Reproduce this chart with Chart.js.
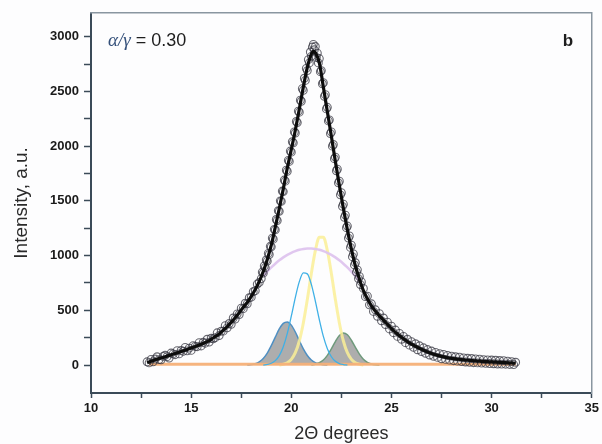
<!DOCTYPE html>
<html><head><meta charset="utf-8">
<script src="https://cdn.jsdelivr.net/npm/chart.js@4.4.1/dist/chart.umd.min.js"></script>
<style>html,body{margin:0;padding:0;background:#fdfdfe;}canvas{display:block;}</style>
</head><body>
<canvas id="c" width="602" height="444"></canvas>
<script>
// ---- data ----
const xTickValues = [10,12.5,15,17.5,20,22.5,25,27.5,30,32.5,35];
const xTickLabels = [10,15,20,25,30,35];
const yTickValues = [0,250,500,750,1000,1250,1500,1750,2000,2250,2500,2750,3000];
const yTickLabels = [0,500,1000,1500,2000,2500,3000];

const scatterTheta = [
12.8,12.9,13.0,13.1,13.2,13.3,13.4,13.5,13.6,13.7,13.8,13.9,14.0,14.1,14.2,14.3,14.4,14.5,14.6,14.7,14.8,14.9,15.0,15.1,15.2,15.3,15.4,15.5,15.6,15.7,15.8,15.9,16.0,16.1,16.2,16.3,16.4,16.5,16.6,16.7,16.8,16.9,17.0,17.1,17.2,17.3,17.4,17.5,17.6,17.7,17.8,17.9,18.0,18.1,18.2,18.3,18.4,
18.50,18.55,18.60,18.65,18.70,18.75,18.80,18.85,18.90,18.95,19.00,19.05,19.10,19.15,19.20,19.25,19.30,19.35,19.40,19.45,19.50,19.55,19.60,19.65,19.70,19.75,19.80,19.85,19.90,19.95,20.00,20.05,20.10,20.15,20.20,20.25,20.30,20.35,20.40,20.45,20.50,20.55,20.60,20.65,20.70,20.75,20.80,20.85,20.90,20.95,21.00,21.05,21.10,21.15,21.20,21.25,21.30,21.35,21.40,21.45,21.50,21.55,21.60,21.65,21.70,21.75,21.80,21.85,21.90,21.95,22.00,22.05,22.10,22.15,22.20,22.25,22.30,22.35,22.40,22.45,22.50,22.55,22.60,22.65,22.70,22.75,22.80,22.85,22.90,22.95,23.00,23.05,23.10,23.15,23.20,23.25,23.30,23.35,23.40,23.45,23.50,
23.6,23.7,23.8,23.9,24.0,24.1,24.2,24.3,24.4,24.5,24.6,24.7,24.8,24.9,25.0,25.1,25.2,25.3,25.4,25.5,25.6,25.7,25.8,25.9,26.0,26.1,26.2,26.3,26.4,26.5,26.6,26.7,26.8,26.9,27.0,27.1,27.2,27.3,27.4,27.5,27.6,27.7,27.8,27.9,28.0,28.1,28.2,28.3,28.4,28.5,28.6,28.7,28.8,28.9,29.0,29.1,29.2,29.3,29.4,29.5,29.6,29.7,29.8,29.9,30.0,30.1,30.2,30.3,30.4,30.5,30.6,30.7,30.8,30.9,31.0,31.1,31.2
];
const scatterIntensity = [
30,20,52,30,55,76,50,48,80,90,77,64,110,102,95,132,102,134,126,162,130,155,134,178,170,168,205,175,208,200,236,210,245,240,250,295,270,310,310,360,340,380,372,430,420,468,462,520,515,565,560,615,620,670,680,740,755,
790,850,840,905,890,960,950,1020,1010,1085,1080,1160,1150,1240,1235,1330,1320,1410,1405,1500,1495,1590,1585,1690,1680,1780,1770,1870,1860,1955,1945,2040,2030,2130,2120,2225,2215,2320,2310,2420,2410,2525,2510,2620,2600,2710,2690,2790,2760,2860,2820,2905,2930,2880,2910,2810,2850,2760,2800,2680,2690,2570,2580,2455,2470,2340,2355,2230,2240,2115,2130,2000,2015,1885,1900,1775,1790,1665,1680,1555,1575,1450,1470,1350,1370,1255,1270,1160,1180,1075,1095,990,1015,915,935,850,870,790,810,735,760,
700,625,630,550,560,490,505,445,470,405,430,370,392,330,355,296,320,262,290,236,262,205,236,182,214,162,195,140,176,124,158,108,142,92,128,80,116,70,105,58,98,52,88,45,82,40,76,36,72,32,66,28,62,25,60,22,56,20,54,18,50,16,48,14,46,12,44,10,42,9,40,8,36,6,32,5,26
];

const fitTheta = [12.8,13.0,13.2,13.4,13.6,13.8,14.0,14.2,14.4,14.6,14.8,15.0,15.2,15.4,15.6,15.8,16.0,16.2,16.4,16.6,16.8,17.0,17.2,17.4,17.6,17.8,18.0,18.2,18.4,18.6,18.8,19.0,19.2,19.4,19.6,19.8,20.0,20.2,20.4,20.6,20.8,21.0,21.1,21.2,21.4,21.6,21.8,22.0,22.2,22.4,22.6,22.8,23.0,23.2,23.4,23.6,23.8,24.0,24.2,24.4,24.6,24.8,25.0,25.2,25.4,25.6,25.8,26.0,26.2,26.4,26.6,26.8,27.0,27.2,27.4,27.6,27.8,28.0,28.2,28.4,28.6,28.8,29.0,29.2,29.4,29.6,29.8,30.0,30.2,30.4,30.6,30.8,31.0,31.2];
const fitIntensity = [22,35,48,60,70,82,94,106,118,130,143,156,169,183,198,214,235,260,285,318,352,390,432,478,528,572,627,690,765,855,965,1095,1260,1430,1610,1800,1970,2145,2340,2540,2720,2840,2865,2855,2760,2540,2315,2090,1860,1640,1430,1235,1060,905,785,680,605,540,492,450,410,371,334,299,268,240,215,192,172,153,136,120,106,94,84,75,67,61,56,52,48,44,41,38,36,33,31,29,27,25,23,21,19,17];

const peakATheta = [17.8,18.0,18.2,18.4,18.6,18.8,19.0,19.2,19.4,19.6,19.8,20.0,20.2,20.4,20.6,20.8,21.0,21.2,21.4,21.6,21.8];
const peakAIntensity = [0,5,13,30,61,110,177,255,330,381,394,365,302,224,148,88,46,22,9,3,0];

const peakBTheta = [21.0,21.2,21.4,21.6,21.8,22.0,22.2,22.4,22.6,22.8,23.0,23.2,23.4,23.6,23.8,24.0,24.2,24.4];
const peakBIntensity = [0,8,21,46,89,148,215,270,294,277,227,161,100,53,25,10,3,0];

const peakCTheta = [18.6,18.8,19.0,19.2,19.4,19.6,19.8,20.0,20.2,20.4,20.6,20.8,21.0,21.2,21.4,21.6,21.8,22.0,22.2,22.4,22.6,22.8];
const peakCIntensity = [0,6,17,41,87,168,290,447,617,762,842,833,737,584,414,262,149,76,34,14,5,0];

const peakDTheta = [19.4,19.6,19.8,20.0,20.2,20.4,20.6,20.8,21.0,21.2,21.4,21.6,21.8,22.0,22.2,22.4,22.6,22.8,23.0,23.2,23.4,23.6];
const peakDIntensity = [0,8,21,52,113,220,385,599,837,1045,1168,1168,1045,837,599,385,220,113,52,21,8,0];

const broadTheta = [18.6,18.8,19.0,19.2,19.4,19.6,19.8,20.0,20.2,20.4,20.6,20.8,21.0,21.2,21.4,21.6,21.8,22.0,22.2,22.4,22.6,22.8,23.0,23.2,23.4];
const broadIntensity = [811,853,892,926,957,984,1007,1026,1041,1053,1061,1065,1065,1061,1053,1041,1026,1007,984,957,926,892,853,811,766];

const baselineTheta = [12.9,31.2];
const baselineIntensity = [8,8];

// ---- build chart ----
const pts = (xs, ys) => xs.map((x, i) => ({x: x, y: ys[i]}));
const AX = '#3b4b58';
const FONT = 'Liberation Sans';

const bgPlugin = {
  id: 'bg',
  beforeDraw(chart) {
    const c = chart.ctx;
    c.save(); c.fillStyle = '#fdfdfe'; c.fillRect(0, 0, chart.width, chart.height); c.restore();
  }
};
const textPlugin = {
  id: 'texts',
  afterDraw(chart) {
    const c = chart.ctx, a = chart.chartArea;
    c.save();
    c.textBaseline = 'alphabetic';
    c.font = 'italic 19px "Liberation Serif"';
    c.fillStyle = '#34507a';
    c.fillText('α/γ', a.left + 17, a.top + 33);
    const w = c.measureText('α/γ').width;
    c.font = '18px "' + FONT + '"';
    c.fillStyle = '#1e1e1e';
    c.fillText(' = 0.30', a.left + 17 + w, a.top + 33);
    c.font = 'bold 17px "' + FONT + '"';
    c.fillText('b', a.right - 29, a.top + 33);
    c.restore();
  }
};

const lineDs = (label, data, color, width, order, extra) => Object.assign({
  label, data, showLine: true, borderColor: color, borderWidth: width,
  pointRadius: 0, pointHoverRadius: 0, fill: false, order,
  cubicInterpolationMode: 'monotone'
}, extra || {});

new Chart(document.getElementById('c'), {
  type: 'scatter',
  data: {
    datasets: [
      lineDs('fit', pts(fitTheta, fitIntensity), '#0d0d0d', 3.2, 0),
      {label: 'data', data: pts(scatterTheta, scatterIntensity), showLine: false,
       pointRadius: 3.9, pointStyle: 'circle', borderWidth: 1.1,
       borderColor: 'rgba(55,55,65,0.75)', backgroundColor: 'rgba(0,0,0,0)', order: 1},
      lineDs('peak C', pts(peakCTheta, peakCIntensity), '#3fb0e6', 1.3, 2),
      lineDs('baseline', pts(baselineTheta, baselineIntensity), 'rgba(246,176,120,0.95)', 3, 3),
      lineDs('broad', pts(broadTheta, broadIntensity), 'rgba(222,196,238,0.95)', 2.5, 4),
      lineDs('peak D', pts(peakDTheta, peakDIntensity), 'rgba(250,238,150,0.85)', 3, 5),
      lineDs('peak A', pts(peakATheta, peakAIntensity), '#4f8fc2', 1.5, 6,
        {fill: 'origin', backgroundColor: 'rgba(150,150,150,0.78)'}),
      lineDs('peak B', pts(peakBTheta, peakBIntensity), '#6f9a7c', 1.5, 6,
        {fill: 'origin', backgroundColor: 'rgba(150,150,150,0.78)'})
    ]
  },
  options: {
    responsive: false,
    devicePixelRatio: 1,
    animation: false,
    layout: {padding: {top: 11, right: 10, left: 0, bottom: 0}},
    plugins: {legend: {display: false}, tooltip: {enabled: false}},
    scales: {
      x: {
        type: 'linear', min: 10, max: 35, position: 'bottom',
        afterBuildTicks: s => { s.ticks = xTickValues.map(v => ({value: v})); },
        afterFit: s => { s.height = 51; },
        ticks: {autoSkip: false, maxRotation: 0, padding: 3, color: '#1a1a1a',
          font: {family: FONT, size: 13, weight: 'bold'},
          callback: v => xTickLabels.includes(v) ? String(v) : ''},
        grid: {drawOnChartArea: false, drawTicks: true, tickLength: 5, tickColor: AX, tickWidth: 1.5},
        border: {display: true, color: AX, width: 2},
        title: {display: true, text: '2Θ degrees', color: '#2a2a2a',
          font: {family: FONT, size: 18, lineHeight: 1.1}, padding: {top: 0, bottom: 0}}
      },
      y: {
        type: 'linear', min: -255, max: 3218, position: 'left',
        afterBuildTicks: s => { s.ticks = yTickValues.map(v => ({value: v})); },
        afterFit: s => { s.width = 91; },
        ticks: {autoSkip: false, padding: 5, color: '#1a1a1a',
          font: {family: FONT, size: 13, weight: 'bold'},
          callback: v => yTickLabels.includes(v) ? String(v) : ''},
        grid: {drawOnChartArea: false, drawTicks: true, tickLength: 7, tickColor: AX, tickWidth: 1.5},
        border: {display: true, color: AX, width: 2},
        title: {display: true, text: 'Intensity, a.u.', color: '#2a2a2a',
          font: {family: FONT, size: 19}, padding: {top: 10, bottom: 0}}
      },
      x2: {
        type: 'linear', min: 10, max: 35, position: 'top',
        afterFit: s => { s.height = 0; },
        ticks: {display: false}, grid: {display: false},
        border: {display: true, color: '#8996a0', width: 1.5}
      },
      y2: {
        type: 'linear', min: -255, max: 3218, position: 'right',
        afterFit: s => { s.width = 0; },
        ticks: {display: false}, grid: {display: false},
        border: {display: true, color: '#8996a0', width: 1.5}
      }
    }
  },
  plugins: [bgPlugin, textPlugin]
});
</script>
</body></html>
